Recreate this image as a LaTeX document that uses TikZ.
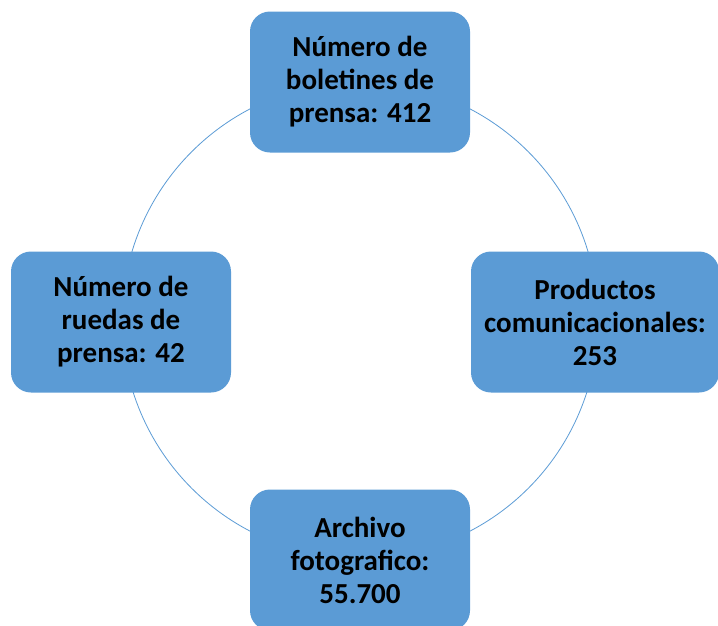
\documentclass[tikz,border=0pt]{standalone}
\usepackage{fontspec}
\setmainfont{Carlito}
\usetikzlibrary{positioning}
\definecolor{cajaazul}{HTML}{5B9BD5}

\begin{document}
\begin{tikzpicture}[x=1pt, y=-1pt,
    caja/.style={draw=none, fill=cajaazul, rounded corners=20pt,
        minimum width=220pt, minimum height=141pt, align=center,
        font=\fontsize{29}{33}\selectfont\bfseries, text=black}]

    \useasboundingbox (0,0) rectangle (718,625);

    \draw[cajaazul, line width=0.8pt] (360,320) circle[radius=238];

    \node[caja] (boletines) at (360,82) {Número de\\boletines de\\prensa: 412};
    \node[caja] (ruedas) at (121,322) {Número de\\ruedas de\\prensa: 42};
    \node[caja, minimum width=248pt] (productos) at (595,322) {Productos\\comunicacionales:\\253};
    \node[caja] (archivo) at (360,560) {Archivo\\fotografico:\\55.700};

\end{tikzpicture}
\end{document}
